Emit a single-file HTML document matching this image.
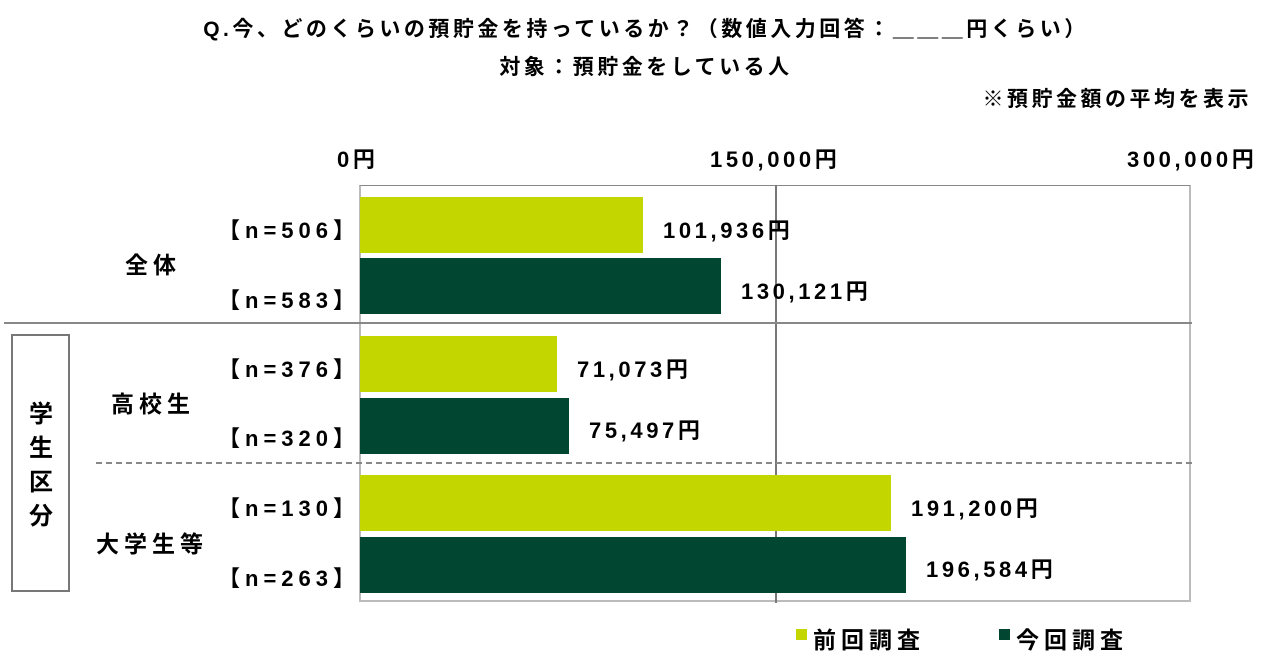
<!DOCTYPE html>
<html><head><meta charset="utf-8"><style>
body{margin:0;width:1280px;height:670px;background:#fff;position:relative;overflow:hidden;font-family:"Liberation Sans","Noto Sans CJK JP",sans-serif;font-weight:bold;color:#000}
.a{position:absolute;white-space:nowrap}
.t{font-size:21px;line-height:24px;letter-spacing:3.5px}
.bar{position:absolute;left:360px;height:56px}
.l{background:#c4d600}.d{background:#004631}
.n{font-size:22px;right:920px;text-align:right;letter-spacing:5px}
.v{font-size:22px;letter-spacing:3.6px}
.c{font-size:23px;letter-spacing:5px}
</style></head><body>
<div class="a t" style="left:0;width:1292px;text-align:center;top:18px">Q.今、どのくらいの預貯金を持っているか？（数値入力回答：＿＿＿円くらい）</div>
<div class="a t" style="left:0;width:1292px;text-align:center;top:56px">対象：預貯金をしている人</div>
<div class="a t" style="right:28px;top:88px">※預貯金額の平均を表示</div>
<div class="a v" style="left:337px;top:142px">0円</div>
<div class="a v" style="left:710px;top:142px">150,000円</div>
<div class="a v" style="left:1127px;top:142px">300,000円</div>
<div class="a" style="left:359px;top:185px;width:832px;height:417px;border:2px solid #bbb;border-top:1px solid #888;box-sizing:border-box"></div>
<div class="a" style="left:775px;top:185px;width:2px;height:418px;background:#777"></div>
<div class="a" style="left:4px;top:322px;width:1188px;height:2px;background:#888"></div>
<div class="a" style="left:96px;top:462px;width:1096px;border-top:2px dashed #888"></div>
<div class="a" style="left:11px;top:334px;width:59px;height:258px;border:2px solid #777;box-sizing:border-box"></div>
<div class="a" style="left:24px;top:398px;font-size:24px;line-height:34px;width:34px;text-align:center;white-space:normal">学<br>生<br>区<br>分</div>
<div class="bar l" style="top:197px;width:283px"></div>
<div class="bar d" style="top:258px;width:361px"></div>
<div class="bar l" style="top:336px;width:197px"></div>
<div class="bar d" style="top:398px;width:209px"></div>
<div class="bar l" style="top:475px;width:531px"></div>
<div class="bar d" style="top:537px;width:546px"></div>
<div class="a n" style="top:213px">【n=506】</div>
<div class="a n" style="top:283px">【n=583】</div>
<div class="a n" style="top:352px">【n=376】</div>
<div class="a n" style="top:421px">【n=320】</div>
<div class="a n" style="top:491px">【n=130】</div>
<div class="a n" style="top:561px">【n=263】</div>
<div class="a c" style="left:125px;top:246px">全体</div>
<div class="a c" style="left:111px;top:385px">高校生</div>
<div class="a c" style="left:96px;top:525px">大学生等</div>
<div class="a v" style="left:663px;top:213px">101,936円</div>
<div class="a v" style="left:741px;top:274px">130,121円</div>
<div class="a v" style="left:577px;top:352px">71,073円</div>
<div class="a v" style="left:589px;top:413px">75,497円</div>
<div class="a v" style="left:911px;top:491px">191,200円</div>
<div class="a v" style="left:926px;top:552px">196,584円</div>
<div class="a" style="left:796px;top:629px;width:11px;height:11px;background:#c4d600"></div>
<div class="a c" style="left:813px;top:621px">前回調査</div>
<div class="a" style="left:999px;top:629px;width:11px;height:11px;background:#004631"></div>
<div class="a c" style="left:1016px;top:621px">今回調査</div>
</body></html>
